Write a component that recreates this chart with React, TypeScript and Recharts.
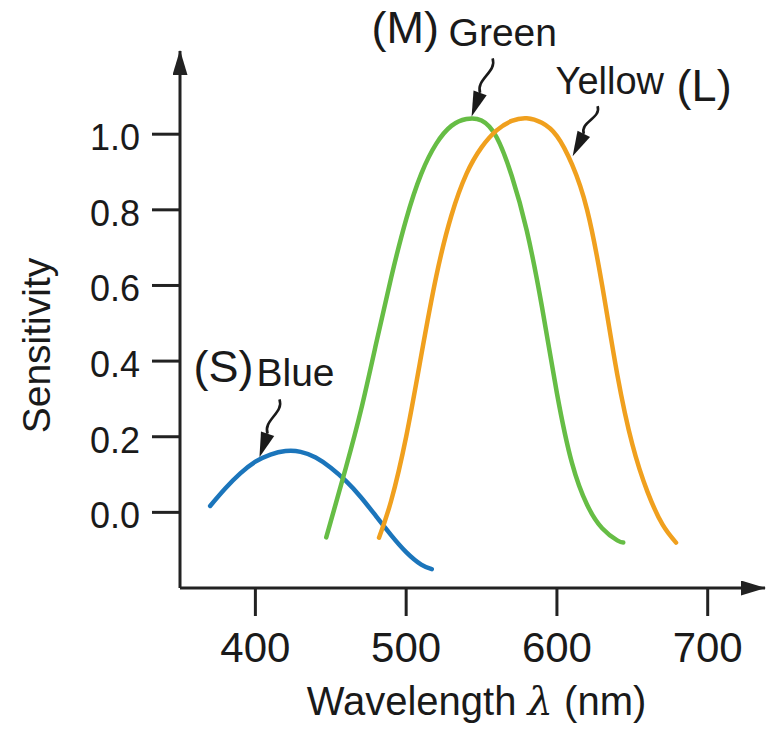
import { LineChart, Line, XAxis, YAxis, ReferenceDot } from 'recharts';

const FONT = '"Liberation Sans", Arial, Helvetica, sans-serif';
const INK = '#1a1a1a';

const xTicks = [400, 500, 600, 700];
const yTicks = [0, 0.2, 0.4, 0.6, 0.8, 1.0];

// S cone (blue)
const blueNm = [370, 380, 390, 400, 410, 420, 430, 440, 450, 460, 470, 480, 490, 500, 510, 517];
const blueVal = [0.017, 0.063, 0.103, 0.134, 0.153, 0.162, 0.16, 0.145, 0.118, 0.083, 0.04, -0.01, -0.06, -0.105, -0.138, -0.15];

// M cone (green)
const greenNm = [447, 450, 460, 470, 480, 490, 500, 510, 520, 530, 540, 550, 560, 570, 580, 590, 600, 610, 620, 630, 640, 644];
const greenVal = [-0.066, -0.024, 0.118, 0.27, 0.445, 0.62, 0.775, 0.895, 0.975, 1.022, 1.04, 1.036, 0.992, 0.89, 0.745, 0.545, 0.315, 0.13, 0.02, -0.042, -0.074, -0.08];

// L cone (yellow)
const yellowNm = [482, 490, 500, 510, 520, 530, 540, 550, 560, 570, 580, 590, 600, 610, 620, 630, 640, 650, 660, 670, 679];
const yellowVal = [-0.067, 0.03, 0.2, 0.415, 0.625, 0.785, 0.895, 0.965, 1.01, 1.035, 1.042, 1.03, 0.995, 0.92, 0.8, 0.6, 0.365, 0.18, 0.055, -0.032, -0.08];

// where each squiggly arrow points (nm, sensitivity)
const blueTip = [402.7, 0.1455];
const greenTip = [543.4, 1.047];
const yellowTip = [610.4, 0.942];

const toRows = (nm: number[], vals: number[]) => nm.map((n, i) => ({ nm: n, s: vals[i] }));

const blueData = toRows(blueNm, blueVal);
const greenData = toRows(greenNm, greenVal);
const yellowData = toRows(yellowNm, yellowVal);

type Caption = { text: string; dx: number; dy: number; size: number };

function makePointer(sx: number, sy: number, captions: Caption[]) {
  return (props: any) => {
    const { cx, cy } = props;
    const len = Math.hypot(sx, sy);
    const ux = sx / len;
    const uy = sy / len;
    const px = -uy;
    const py = ux;
    const head = 25;
    const bx = ux * head;
    const by = uy * head;
    const dx = bx - sx;
    const dy = by - sy;
    const c1x = sx + dx * 0.3 + px * 9;
    const c1y = sy + dy * 0.3 + py * 9;
    const c2x = sx + dx * 0.7 - px * 9;
    const c2y = sy + dy * 0.7 - py * 9;
    return (
      <g transform={`translate(${cx},${cy})`}>
        <path
          d={`M${sx},${sy} C${c1x},${c1y} ${c2x},${c2y} ${bx},${by}`}
          fill="none"
          stroke={INK}
          strokeWidth={2.6}
        />
        <path
          d={`M0,0 L${bx + px * 7},${by + py * 7} L${bx - px * 7},${by - py * 7} Z`}
          fill={INK}
        />
        {captions.map((c) => (
          <text key={c.text} x={c.dx} y={c.dy} fontSize={c.size} fontFamily={FONT} fill={INK}>
            {c.text}
          </text>
        ))}
      </g>
    );
  };
}

const bluePointer = makePointer(20, -58, [
  { text: '(S)', dx: -66, dy: -75, size: 45 },
  { text: 'Blue', dx: -3, dy: -71, size: 39 },
]);
const greenPointer = makePointer(21, -58, [
  { text: '(M)', dx: -100, dy: -73, size: 45 },
  { text: 'Green', dx: -23, dy: -70, size: 39 },
]);
const yellowPointer = makePointer(25, -50, [
  { text: 'Yellow', dx: -17, dy: -62, size: 38 },
  { text: '(L)', dx: 104, dy: -55, size: 45 },
]);

function XTick(props: any) {
  const { x, y, payload } = props;
  return (
    <text x={x} y={y + 46} textAnchor="middle" fontSize={42} fontFamily={FONT} fill={INK}>
      {payload.value}
    </text>
  );
}

function YTick(props: any) {
  const { x, y, payload } = props;
  return (
    <text x={x} y={y + 16} textAnchor="end" fontSize={36} fontFamily={FONT} fill={INK}>
      {Number(payload.value).toFixed(1)}
    </text>
  );
}

const xLabel = (props: any) => {
  const vb = props.viewBox;
  return (
    <text
      x={vb.x + vb.width / 2 + 4}
      y={vb.y + 127}
      textAnchor="middle"
      fontSize={40}
      fontFamily={FONT}
      fill={INK}
    >
      Wavelength{' '}
      <tspan fontStyle="italic" fontFamily='"DejaVu Serif", "Liberation Serif", serif'>
        λ
      </tspan>{' '}
      (nm)
    </text>
  );
};

const yLabel = (props: any) => {
  const vb = props.viewBox;
  const x = vb.x + 50;
  const y = vb.y + vb.height / 2 + 26;
  return (
    <text
      x={x}
      y={y}
      transform={`rotate(-90, ${x}, ${y})`}
      textAnchor="middle"
      fontSize={39}
      fontFamily={FONT}
      fill={INK}
    >
      Sensitivity
    </text>
  );
};

const axisStroke = { stroke: '#222', strokeWidth: 3 };

export default function App() {
  return (
    <div style={{ position: 'absolute', left: 0, top: 0, width: 773, height: 740, background: '#fff' }}>
      <LineChart width={773} height={740} margin={{ top: 51, right: 8, left: 0, bottom: 0 }}>
        <defs>
          <marker
            id="axisArrow"
            viewBox="0 0 25 15"
            refX={24}
            refY={7.5}
            markerWidth={25}
            markerHeight={15}
            markerUnits="userSpaceOnUse"
            orient="auto-start-reverse"
          >
            <path d="M0,0 L25,7.5 L0,15 Z" fill="#222" />
          </marker>
        </defs>
        <XAxis
          type="number"
          dataKey="nm"
          domain={[350, 738]}
          ticks={xTicks}
          allowDataOverflow
          height={152}
          tickSize={28}
          tickMargin={0}
          axisLine={{ ...axisStroke, markerEnd: 'url(#axisArrow)' }}
          tickLine={axisStroke}
          tick={<XTick />}
          label={xLabel}
        />
        <YAxis
          type="number"
          domain={[-0.2, 1.22]}
          ticks={yTicks}
          allowDataOverflow
          width={180}
          tickSize={28}
          tickMargin={12}
          axisLine={{ ...axisStroke, markerStart: 'url(#axisArrow)' }}
          tickLine={axisStroke}
          tick={<YTick />}
          label={yLabel}
        />
        <Line
          data={blueData}
          dataKey="s"
          type="natural"
          stroke="#1b75bb"
          strokeWidth={4.5}
          strokeLinecap="round"
          dot={false}
          isAnimationActive={false}
        />
        <Line
          data={greenData}
          dataKey="s"
          type="natural"
          stroke="#66bd45"
          strokeWidth={4.5}
          strokeLinecap="round"
          dot={false}
          isAnimationActive={false}
        />
        <Line
          data={yellowData}
          dataKey="s"
          type="natural"
          stroke="#f0a01e"
          strokeWidth={4.5}
          strokeLinecap="round"
          dot={false}
          isAnimationActive={false}
        />
        <ReferenceDot x={blueTip[0]} y={blueTip[1]} r={1} shape={bluePointer} />
        <ReferenceDot x={greenTip[0]} y={greenTip[1]} r={1} shape={greenPointer} />
        <ReferenceDot x={yellowTip[0]} y={yellowTip[1]} r={1} shape={yellowPointer} />
      </LineChart>
    </div>
  );
}
